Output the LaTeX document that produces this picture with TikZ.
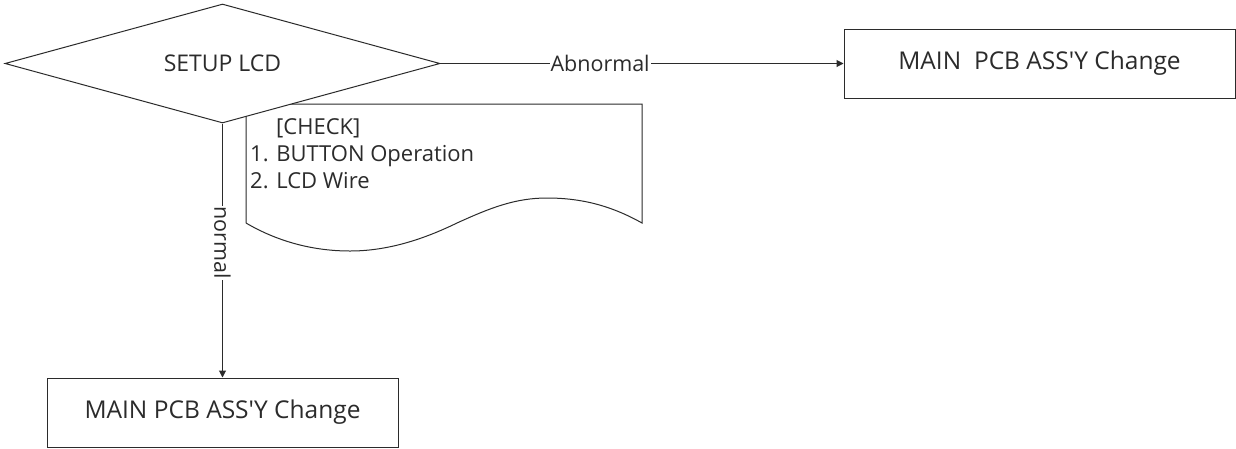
\documentclass[tikz,border=0pt]{standalone}
\usepackage{fontspec}
\setmainfont{Open Sans}
\usetikzlibrary{arrows.meta,shapes.geometric}
\definecolor{Ink}{HTML}{2B2B2B}
\definecolor{Paper}{HTML}{FFFFFF}
\tikzset{
  decision/.style={
    diamond, draw=Ink, line width=1pt, fill=Paper, inner sep=0pt,
    shape aspect=3.66, minimum width=435pt, minimum height=119pt, text=Ink,
    font=\fontsize{23}{27}\selectfont
  },
  process/.style={
    draw=Ink, line width=1pt, fill=Paper, inner sep=0pt,
    minimum width=391pt, minimum height=69pt, text=Ink,
    font=\fontsize{24.5}{28}\selectfont
  },
  note/.style={
    align=left, anchor=north west, inner sep=0pt, text=Ink,
    font=\fontsize{22}{27}\selectfont
  },
  tag/.style={
    fill=Paper, inner sep=1pt, text=Ink, font=\fontsize{21.5}{25}\selectfont
  },
  flow/.style={-{Triangle[length=7pt,width=7pt]}, line width=1pt, draw=Ink}
}
\begin{document}
\begin{tikzpicture}[x=1pt,y=-1pt]
  \useasboundingbox[fill=Paper] (0,0) rectangle (1236,448);
  % check sheet behind the decision
  \draw[Ink, line width=1pt] (246,223) -- (246,104) -- (642,104) -- (642,223)
    .. controls (610,205) and (580,198) .. (547,198)
    .. controls (515,198) and (490,208) .. (457,223)
    .. controls (420,241) and (385,251) .. (350,251)
    .. controls (310,251) and (275,240) .. (246,223);
  \node[note] (check) at (250,118) {\hspace{26pt}[CHECK]\\1. BUTTON Operation\\2. LCD Wire};
  \node[decision] (setup) at (222.5,63.5) {SETUP LCD};
  \node[process] (pcbright) at (1039.5,63.5) {MAIN\ \ PCB ASS\textquotesingle Y Change};
  \node[process, minimum width=351pt] (pcbdown) at (222.5,412.5) {MAIN PCB ASS\textquotesingle Y Change};
  \draw[flow] (setup.east) -- node[tag, pos=0.396] {Abnormal} (pcbright.west);
  \draw[flow] (setup.south) -- node[tag, pos=0.47, rotate=-90] {normal} (pcbdown.north);
\end{tikzpicture}
\end{document}
